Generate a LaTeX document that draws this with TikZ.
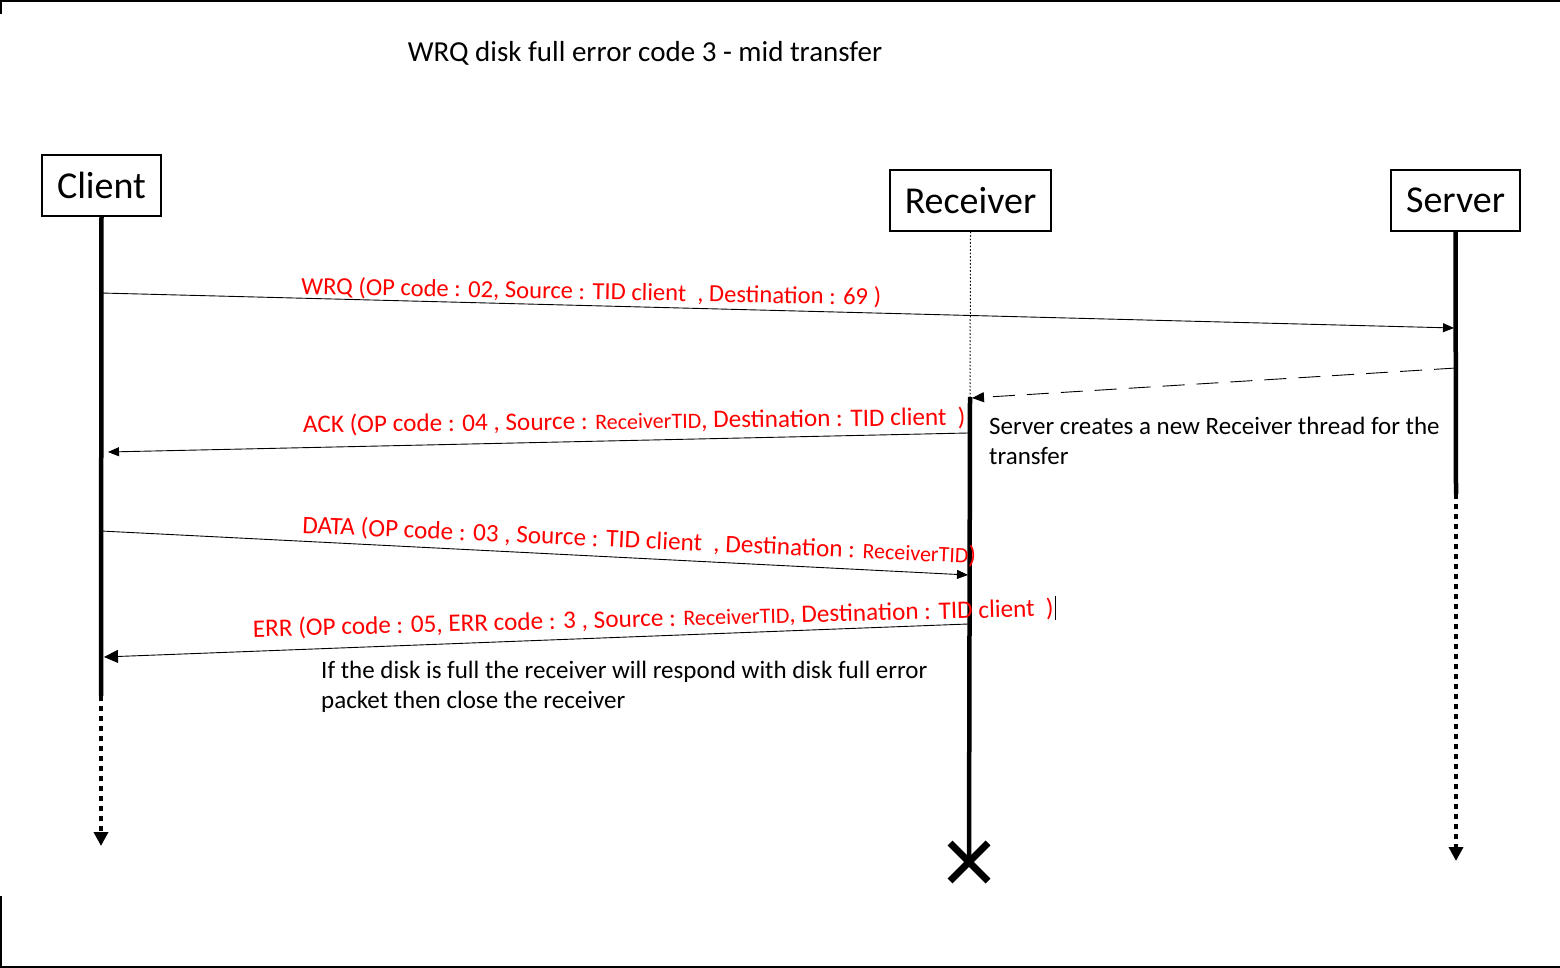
\documentclass[tikz,border=0pt]{standalone}
\usepackage{fontspec}
\setmainfont{Carlito}
\usetikzlibrary{arrows.meta}
\newcommand\myrtid{{\fontsize{22}{24}\selectfont ReceiverTID}}
\begin{document}
\begin{tikzpicture}[x=1pt,y=-1pt,
  actor/.style={draw, line width=1.5pt, minimum height=61pt, inner sep=0pt, font=\fontsize{38}{42}\selectfont},
  msg/.style={line width=0.9pt, -{Triangle[length=11pt,width=9pt]}},
  bigmsg/.style={line width=0.9pt, -{Triangle[length=14pt,width=13pt]}},
  createmsg/.style={line width=0.9pt, dash pattern=on 22pt off 12pt, -{Triangle[length=12pt,width=10pt]}},
  lbl/.style={text=red, font=\fontsize{25.2}{28}\selectfont, inner sep=0pt, anchor=base west},
  life/.style={line width=4.5pt},
  lifedot/.style={line width=4.5pt, dash pattern=on 5pt off 5pt, -{Triangle[length=14pt,width=14pt]}},
  thinlife/.style={line width=1pt, dash pattern=on 1.5pt off 2pt},
  note/.style={font=\fontsize{25}{30}\selectfont, align=left, inner sep=0pt, anchor=north west},
  xmark/.style={line width=7pt},
  frame/.style={line width=2.5pt}
]
\useasboundingbox (0,0) rectangle (1560,968);
% frame pieces
\draw[frame] (1,14) -- (1,1) -- (1560,1);
\draw[frame] (1,896) -- (1,967) -- (1560,967);

% title
\node[font=\fontsize{29}{33}\selectfont, anchor=base] (title) at (645,62) {WRQ disk full error code 3 - mid transfer};

% actors
\node[actor, minimum width=119pt] (client) at (101.5,185.5) {Client};
\node[actor, minimum width=161pt] (receiver) at (970.5,200.5) {Receiver};
\node[actor, minimum width=129pt] (server) at (1455.5,200.5) {Server};

% lifeline coordinates
\coordinate (cEnd) at (101,696);
\coordinate (cTip) at (101,846);
\coordinate (rAct) at (970,397);
\coordinate (rX) at (969,862);
\coordinate (sEnd) at (1456,494);
\coordinate (sTip) at (1456,861);

\draw[life] (client.south) -- (cEnd);
\draw[lifedot] (cEnd) -- (cTip);
\draw[thinlife] (receiver.south) -- (rAct);
\draw[life] (rAct) -- (rX);
\draw[xmark] (rX) ++(-19,-19) -- ++(38,38);
\draw[xmark] (rX) ++(-19,19) -- ++(38,-38);
\draw[life] (server.south) -- (sEnd);
\draw[lifedot] (sEnd) -- (sTip);

% message coordinates
\coordinate (m1a) at (101,293);
\coordinate (m1b) at (1454,328);
\coordinate (m2a) at (1456,368);
\coordinate (m2b) at (972,398);
\coordinate (m3a) at (968,433);
\coordinate (m3b) at (108,452);
\coordinate (m4a) at (101,531);
\coordinate (m4b) at (968,575);
\coordinate (m5a) at (968,624);
\coordinate (m5b) at (104,657);

\draw[msg] (m1a) -- (m1b);
\draw[createmsg] (m2a) -- (m2b);
\draw[msg] (m3a) -- (m3b);
\draw[msg] (m4a) -- (m4b);
\draw[bigmsg] (m5a) -- (m5b);

% labels
\node[lbl, rotate=-1.1, font=\fontsize{24.6}{28}\selectfont] (l1) at (301,294) {WRQ (OP code : 02, Source : TID client\ \ , Destination : 69 )};
\node[lbl, rotate=0.7] (l2) at (303,433) {ACK (OP code : 04 , Source : \myrtid, Destination : TID client\ \ )};
\node[lbl, rotate=-2.6] (l3) at (302,533) {DATA (OP code : 03 , Source : TID client\ \ , Destination : \myrtid )};
\node[lbl, rotate=1.5] (l4) at (253,637) {ERR (OP code : 05, ERR code : 3 , Source : \myrtid, Destination : TID client\ \ )};
\draw[line width=0.8pt] (1055,596) -- (1055,620);

% notes
\node[note] (n1) at (989,417) {Server creates a new Receiver thread for the\\transfer};
\node[note] (n2) at (321,661) {If the disk is full the receiver will respond with disk full error\\packet then close the receiver};
\end{tikzpicture}
\end{document}
